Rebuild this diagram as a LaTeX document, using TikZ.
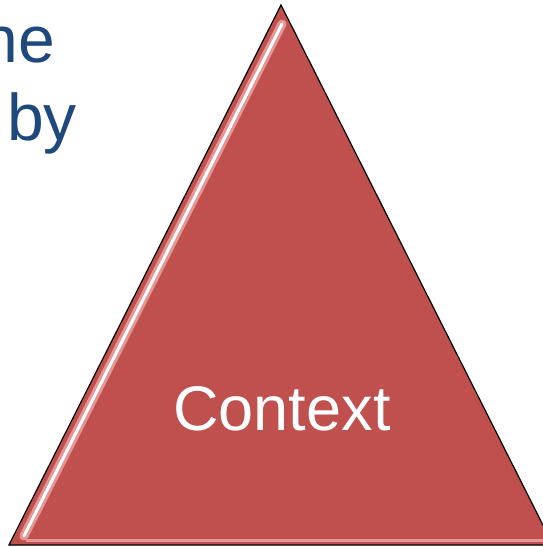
\documentclass[tikz,border=0pt]{standalone}
\usepackage{fontspec}
\setmainfont{Liberation Sans}
\usepackage{tikz}
\definecolor{ctxred}{RGB}{192,80,77}
\definecolor{ctxpink}{RGB}{228,150,148}
\definecolor{slideblue}{RGB}{31,73,125}

\begin{document}
\begin{tikzpicture}[x=1pt,y=-1pt]
\tikzstyle{every node}=[inner sep=0pt,font=\fontsize{66}{78}\selectfont]
\useasboundingbox (0,0) rectangle (543,547);
\coordinate (apex) at (281,5);
\coordinate (left) at (9,545);
\coordinate (right) at (553,545);
\coordinate (hitop) at (282,24);
\coordinate (hibot) at (24,536);
\coordinate (lowa) at (26,540);
\coordinate (lowb) at (543,540);
\fill[ctxred](apex)--(left)--(right)--cycle;
\draw[ctxpink,line width=9pt,line cap=round](hitop)--(hibot);
\draw[white,line width=3pt,line cap=round](hitop)--(hibot);
\draw[ctxpink,line width=3pt](lowa)--(lowb);
\draw[line width=1.2pt](apex)--(left)--(right)--cycle;
\node[white,font=\fontsize{63}{75}\selectfont] (ctx) at (282,409) {Context};
\node[slideblue,anchor=base east] (ne) at (55,62) {ne};
\node[slideblue,anchor=base west] (by) at (7,140) {by};
\end{tikzpicture}
\end{document}
